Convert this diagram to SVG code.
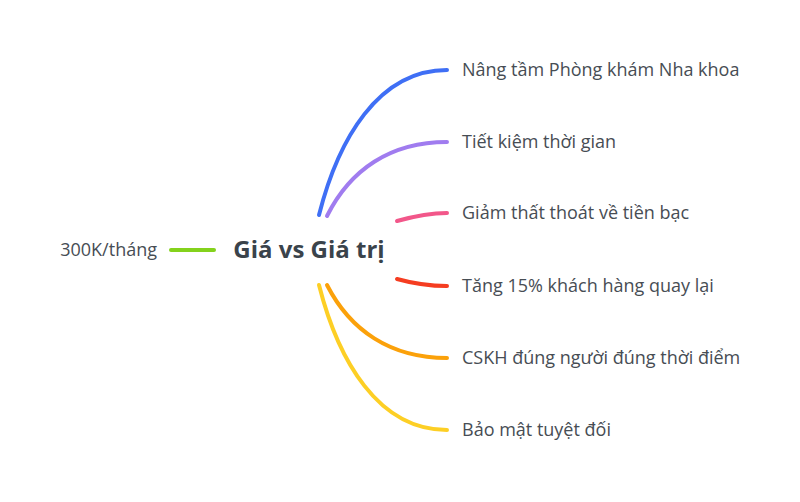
<svg xmlns="http://www.w3.org/2000/svg" width="800" height="502" viewBox="0 0 800 502">
<style>
.lbl{font-family:"Open Sans","Noto Sans",sans-serif;font-size:18px;fill:#474d54}
.ctr{font-family:"Open Sans","Noto Sans",sans-serif;font-size:24px;font-weight:bold;fill:#3a434b}
.c{fill:none;stroke-width:4;stroke-linecap:round}
</style>
<rect width="800" height="502" fill="#ffffff"/>
<g id="connectors">
<path class="c" stroke="#84d21c" d="M171,250 L214,250"/>
<path class="c" stroke="#3f6ff5" d="M319,215 C338,140 378,70 447,70"/>
<path class="c" stroke="#a07cef" d="M327,216 C350,170 390,142 447,142"/>
<path class="c" stroke="#f2578a" d="M397,221 C415,216 430,213 447,213"/>
<path class="c" stroke="#f53d21" d="M397,279 C415,284 430,286 447,286"/>
<path class="c" stroke="#fba10a" d="M327,285 C350,330 390,358 447,358"/>
<path class="c" stroke="#fdcf25" d="M319,285 C338,360 378,430 447,430"/>
</g>
<g id="center"><text class="ctr" x="309" y="258" text-anchor="middle">Giá vs Giá trị</text></g>
<g id="left"><text class="lbl" x="157" y="256" text-anchor="end">300K/tháng</text></g>
<g id="n1"><text class="lbl" x="462" y="76">Nâng tầm Phòng khám Nha khoa</text></g>
<g id="n2"><text class="lbl" x="462" y="148">Tiết kiệm thời gian</text></g>
<g id="n3"><text class="lbl" x="462" y="219">Giảm thất thoát về tiền bạc</text></g>
<g id="n4"><text class="lbl" x="462" y="292">Tăng 15% khách hàng quay lại</text></g>
<g id="n5"><text class="lbl" x="462" y="364">CSKH đúng người đúng thời điểm</text></g>
<g id="n6"><text class="lbl" x="462" y="436">Bảo mật tuyệt đối</text></g>
</svg>
